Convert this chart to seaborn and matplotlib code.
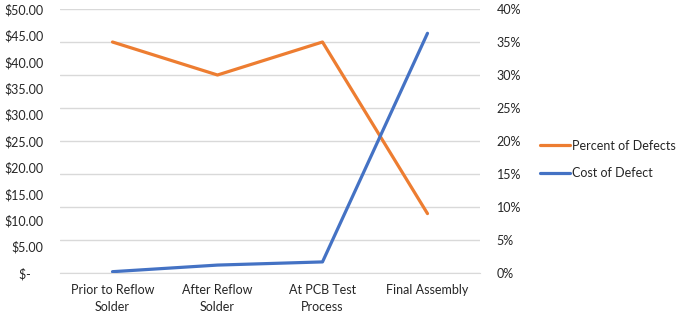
import pandas as pd
import seaborn as sns
import matplotlib.pyplot as plt
from matplotlib.lines import Line2D

# values
stages = ["Prior to Reflow\nSolder", "After Reflow\nSolder", "At PCB Test\nProcess", "Final Assembly"]
pct_defects = [35, 30, 35, 9]          # right axis, %
cost_defect = [0.25, 1.5, 2.1, 45.4]   # left axis, $
cost_ticks = [0, 5, 10, 15, 20, 25, 30, 35, 40, 45, 50]
pct_ticks = [0, 5, 10, 15, 20, 25, 30, 35, 40]

orange = "#ED7D31"
blue = "#4472C4"
grid_col = "#D9D9D9"
text_col = "#262626"
fs = 9

sns.set_style("white")
plt.rcParams['font.family'] = ['Lato', 'DejaVu Sans']

df = pd.DataFrame({"Stage": stages, "Percent": pct_defects, "Cost": cost_defect})

fig = plt.figure(figsize=(6.85, 3.17), dpi=100)
ax_pct = fig.add_axes([0.0876, 0.1388, 0.6131, 0.8328])
ax_cost = ax_pct.twinx()

sns.lineplot(data=df, x="Stage", y="Percent", sort=False, ax=ax_pct,
             color=orange, linewidth=2.3, legend=False)
sns.lineplot(data=df, x="Stage", y="Cost", sort=False, ax=ax_cost,
             color=blue, linewidth=2.3, legend=False)

# percent axis: gridlines, labels on the right
ax_pct.set_xlim(-0.5, 3.5)
ax_pct.set_ylim(0, 40)
ax_pct.set_yticks(pct_ticks)
ax_pct.set_yticklabels([f"{t}%" for t in pct_ticks])
ax_pct.yaxis.tick_right()
ax_pct.grid(axis='y', color=grid_col, linewidth=1)
ax_pct.set_axisbelow(True)

# cost axis: labels on the left
ax_cost.set_ylim(0, 50)
ax_cost.set_yticks(cost_ticks)
ax_cost.set_yticklabels(["$-    "] + [f"${t:.2f}" for t in cost_ticks[1:]])
ax_cost.yaxis.tick_left()
ax_cost.grid(False)

for a in (ax_pct, ax_cost):
    a.set_xlabel("")
    a.set_ylabel("")
    for s in a.spines.values():
        s.set_visible(False)
    a.tick_params(axis='y', length=0, pad=12, labelsize=fs, labelcolor=text_col)

ax_pct.spines['bottom'].set_visible(True)
ax_pct.spines['bottom'].set_color(grid_col)

ax_pct.set_xticks(range(len(stages)))
ax_pct.set_xticklabels(stages, linespacing=1.5)
ax_pct.set_xticks([-0.5, 0.5, 1.5, 2.5, 3.5], minor=True)
ax_pct.tick_params(axis='x', which='major', length=0, pad=8, labelsize=fs, labelcolor=text_col)
ax_pct.tick_params(axis='x', which='minor', length=5, width=1, color=grid_col, direction='out')

handles = [Line2D([], [], color=orange, linewidth=2.3),
           Line2D([], [], color=blue, linewidth=2.3)]
fig.legend(handles, ["Percent of Defects", "Cost of Defect"], loc='center left',
           bbox_to_anchor=(0.772, 0.497), frameon=False, fontsize=fs,
           handlelength=2.4, handletextpad=0.15, labelspacing=1.25, labelcolor=text_col)

fig.savefig("out.png", dpi=100)
